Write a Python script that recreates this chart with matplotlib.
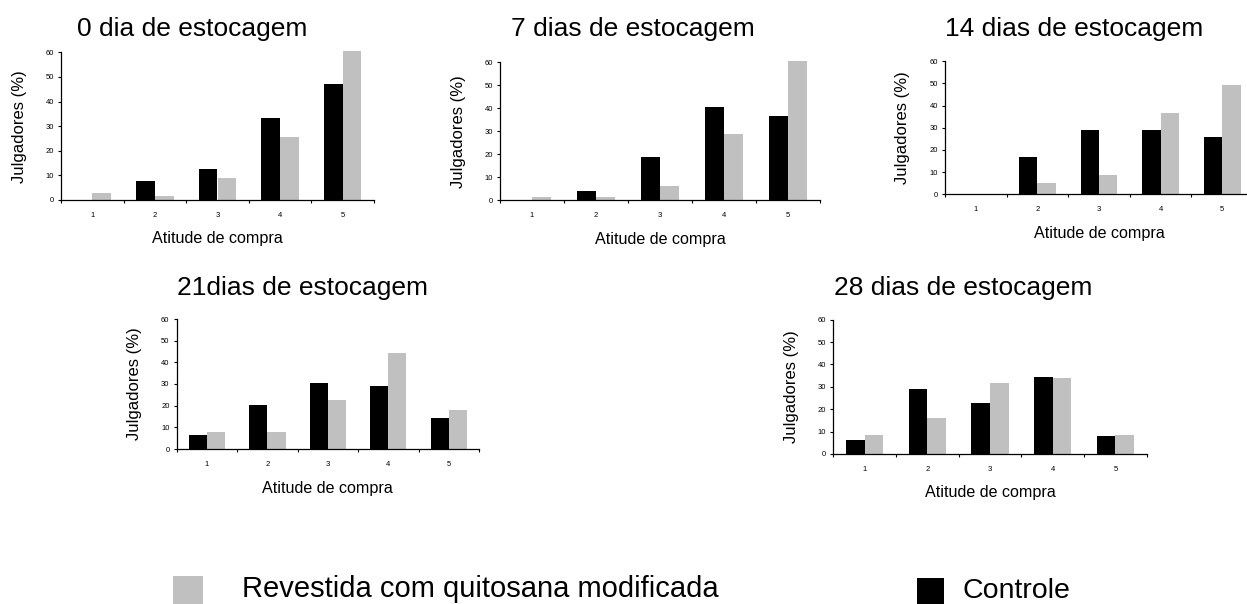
import matplotlib
matplotlib.use("Agg")
import matplotlib.pyplot as plt
import numpy as np
from matplotlib.patches import Rectangle

plt.rcParams["font.family"] = ["Liberation Sans", "DejaVu Sans"]

categories = [1, 2, 3, 4, 5]
titles = ["0 dia de estocagem", "7 dias de estocagem", "14 dias de estocagem",
          "21dias de estocagem", "28 dias de estocagem"]
controle = [
    [0, 7.8, 12.6, 33.3, 47.1],
    [0, 3.9, 18.8, 40.6, 36.8],
    [0, 16.7, 29.2, 29.2, 25.9],
    [6.4, 20.3, 30.5, 29.1, 14.2],
    [6.3, 29.0, 22.8, 34.4, 7.9],
]
revestida = [
    [2.8, 1.5, 8.9, 25.6, 60.6],
    [1.4, 1.4, 6.2, 28.8, 60.6],
    [0, 5.3, 8.9, 36.7, 49.5],
    [7.7, 7.7, 22.5, 44.3, 17.8],
    [8.6, 16.2, 31.7, 34.1, 8.6],
]

W, H = 1247, 604
fig = plt.figure(figsize=(W / 100, H / 100), dpi=100)

# axes boxes in pixels: left, top, right, bottom
boxes = [
    (61, 52.3, 374, 200),
    (500, 62.3, 820, 200.3),
    (945, 61.3, 1253, 194.3),
    (176.7, 319, 479, 449),
    (833.3, 319.7, 1146.7, 454),
]
# title centre x, baseline y (pixels)
title_pos = [(192.5, 36), (632.5, 36), (1074, 36), (302.5, 295), (963, 295)]

x = np.array(categories)
for i, (l, t, r, b) in enumerate(boxes):
    ax = fig.add_axes([l / W, 1 - b / H, (r - l) / W, (b - t) / H])
    ax.bar(x - 0.15, controle[i], width=0.3, color="black", linewidth=0, clip_on=False)
    ax.bar(x + 0.15, revestida[i], width=0.3, color="#c0c0c0", linewidth=0, clip_on=False)
    ax.set_xlim(0.5, 5.5)
    ax.set_ylim(0, 60)
    ax.set_yticks(range(0, 61, 10))
    ax.set_xticks(categories)
    ax.set_xticks(np.arange(0.5, 5.6, 1), minor=True)
    ax.tick_params(axis="x", which="major", length=0, pad=8.5, labelsize=5.5)
    ax.tick_params(axis="x", which="minor", length=2.5, width=0.8, direction="out")
    ax.tick_params(axis="y", length=2.2, width=0.8, pad=3, labelsize=5.5)
    for s in ["top", "right"]:
        ax.spines[s].set_visible(False)
    for s in ["left", "bottom"]:
        ax.spines[s].set_linewidth(0.9)
    wpx, hpx = r - l, b - t
    ax.set_ylabel("Julgadores (%)", fontsize=12, va="center")
    ax.yaxis.set_label_coords(-42 / wpx, 0.5)
    ax.set_xlabel("Atitude de compra", fontsize=11.6, va="center")
    ax.xaxis.set_label_coords(0.5, -39 / hpx)
    tx, ty = title_pos[i]
    fig.text(tx / W, 1 - ty / H, titles[i], fontsize=19, ha="center", va="baseline")

# legend at the bottom
fig.patches.append(Rectangle((173 / W, 1 - 604 / H), 30 / W, 28 / H,
                             transform=fig.transFigure, color="#c0c0c0", linewidth=0))
fig.text(242 / W, 1 - 597 / H, "Revestida com quitosana modificada", fontsize=21,
         ha="left", va="baseline")
fig.patches.append(Rectangle((917 / W, 1 - 604 / H), 27 / W, 26 / H,
                             transform=fig.transFigure, color="black", linewidth=0))
fig.text(963 / W, 1 - 598 / H, "Controle", fontsize=20.5, ha="left", va="baseline")

fig.savefig("out.png", dpi=100)
